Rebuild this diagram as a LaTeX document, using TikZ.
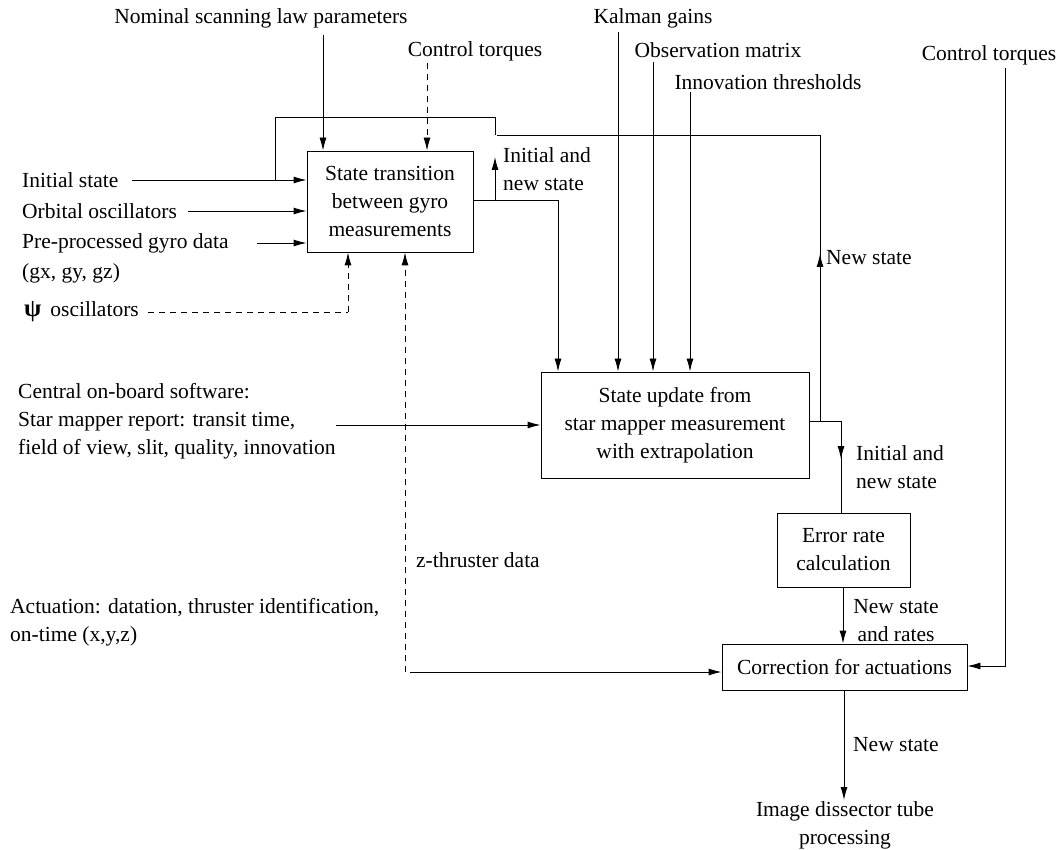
\documentclass[tikz,border=0pt]{standalone}
\usepackage{fontspec}
\setmainfont{Liberation Serif}
\usetikzlibrary{arrows.meta}
\begin{document}
\begin{tikzpicture}[x=1pt,y=-1pt,
  every node/.style={font=\fontsize{21.5}{28}\selectfont, inner sep=0pt},
  box/.style={draw, line width=0.9pt, align=center},
  lbl/.style={anchor=west, align=left},
  line/.style={line width=0.9pt},
  arr/.style={line width=0.9pt, -{Latex[length=13pt,width=7pt]}},
  darr/.style={line width=0.9pt, dash pattern=on 6pt off 5pt, -{Latex[length=13pt,width=7pt]}},
  dline/.style={line width=0.9pt, dash pattern=on 6pt off 5pt}]
\useasboundingbox (0,0) rectangle (1058,850);
\fill[white] (0,0) rectangle (1058,850);

% boxes
\node[box, minimum width=166pt, minimum height=101pt] (b1) at (390,201.5) {State transition\\between gyro\\measurements};
\node[box, minimum width=268pt, minimum height=106pt] (b2) at (675,425) {State update from\\star mapper measurement\\with extrapolation};
\node[box, minimum width=133pt, minimum height=74pt] (b3) at (843.5,550) {Error rate\\calculation};
\node[box, minimum width=245pt, minimum height=46pt] (b4) at (844.5,667) {Correction for actuations};

% top labels
\node (nom) at (261,18) {Nominal scanning law parameters};
\node (ct1) at (475,51) {Control torques};
\node (kal) at (653,18) {Kalman gains};
\node (obs) at (718,50) {Observation matrix};
\node (inn) at (768,82) {Innovation thresholds};
\node (ct2) at (989,55) {Control torques};

% left labels
\node[lbl] (ini) at (22,180) {Initial state};
\node[lbl] (orb) at (22,211) {Orbital oscillators};
\node[lbl] (pre) at (22,243) {Pre-processed gyro data};
\node[lbl] (gxyz) at (22,273) {(gx, gy, gz)};
\node[lbl] (psi) at (24,312) {{\fontsize{25}{28}\selectfont\bfseries ψ}\hspace{9pt}oscillators};
\node[lbl] (cen) at (18,421) {Central on-board software:\\Star mapper report: transit time,\\field of view, slit, quality, innovation};
\node[lbl] (act) at (10,622) {Actuation: datation, thruster identification,\\on-time (x,y,z)};

% connector labels
\node[lbl] (l1) at (503,169) {Initial and\\new state};
\node[lbl] (l2) at (826,258) {New state};
\node[lbl] (l3) at (856,467) {Initial and\\new state};
\node[lbl] (l4) at (416,560) {z-thruster data};
\node[align=center] (l5) at (896,621) {New state\\and rates};
\node[lbl] (l6) at (853,745) {New state};
\node[align=center] (out) at (845,825) {Image dissector tube\\processing};

% coordinates
\coordinate (nomS) at (323,35);
\coordinate (ct1S) at (427,63);
\coordinate (kalS) at (618,32);
\coordinate (obsS) at (653,62);
\coordinate (innS) at (690,92);
\coordinate (ct2S) at (1005,68);
\coordinate (iniS) at (132,180);
\coordinate (orbS) at (188,211);
\coordinate (preS) at (257,243);
\coordinate (psiS) at (148,312);
\coordinate (cenS) at (336,425);
\coordinate (actS) at (410,672);
\coordinate (zS) at (405,672);
\coordinate (outN) at (844,800);

% top inputs
\draw[arr] (nomS) -- (nomS |- b1.north);
\draw[darr] (ct1S) -- (ct1S |- b1.north);
\draw[arr] (kalS) -- (kalS |- b2.north);
\draw[arr] (obsS) -- (obsS |- b2.north);
\draw[arr] (innS) -- (innS |- b2.north);
\draw[arr] (ct2S) -- (1005,666) -- (b4.east |- 0,666);

% left inputs to b1
\draw[arr] (iniS) -- (iniS -| b1.west);
\draw[arr] (orbS) -- (orbS -| b1.west);
\draw[arr] (preS) -- (preS -| b1.west);
\draw[dline] (psiS) -- (348,312);
\draw[darr] (348,312) -- (348,0 |- b1.south);
\draw[darr] (zS) -- (zS |- b1.south);

% feedback loop
\draw[line] (275,180) -- (275,117) -- (495,117) -- (495,135);
\draw[line] (b2.east |- 0,421) -- (820,421) -- (820,135) -- (497,135);
\draw[arr] (820,290) -- (820,254);

% b1 output
\draw[arr] (b1.east |- 0,200) -- (558,200) -- (558,0 |- b2.north);
\draw[arr] (495,200) -- (495,157);

% central to b2
\draw[arr] (cenS) -- (cenS -| b2.west);

% b2 to b3
\draw[line] (809,421) -- (841,421) -- (841,0 |- b3.north);
\draw[arr] (841,421) -- (841,459);

% b3 to b4
\draw[arr] (b3.south -| 843,0) -- (843,0 |- b4.north);

% actuation to b4
\draw[arr] (actS) -- (actS -| b4.west);

% b4 output
\draw[arr] (b4.south -| outN) -- (outN);
\end{tikzpicture}
\end{document}
